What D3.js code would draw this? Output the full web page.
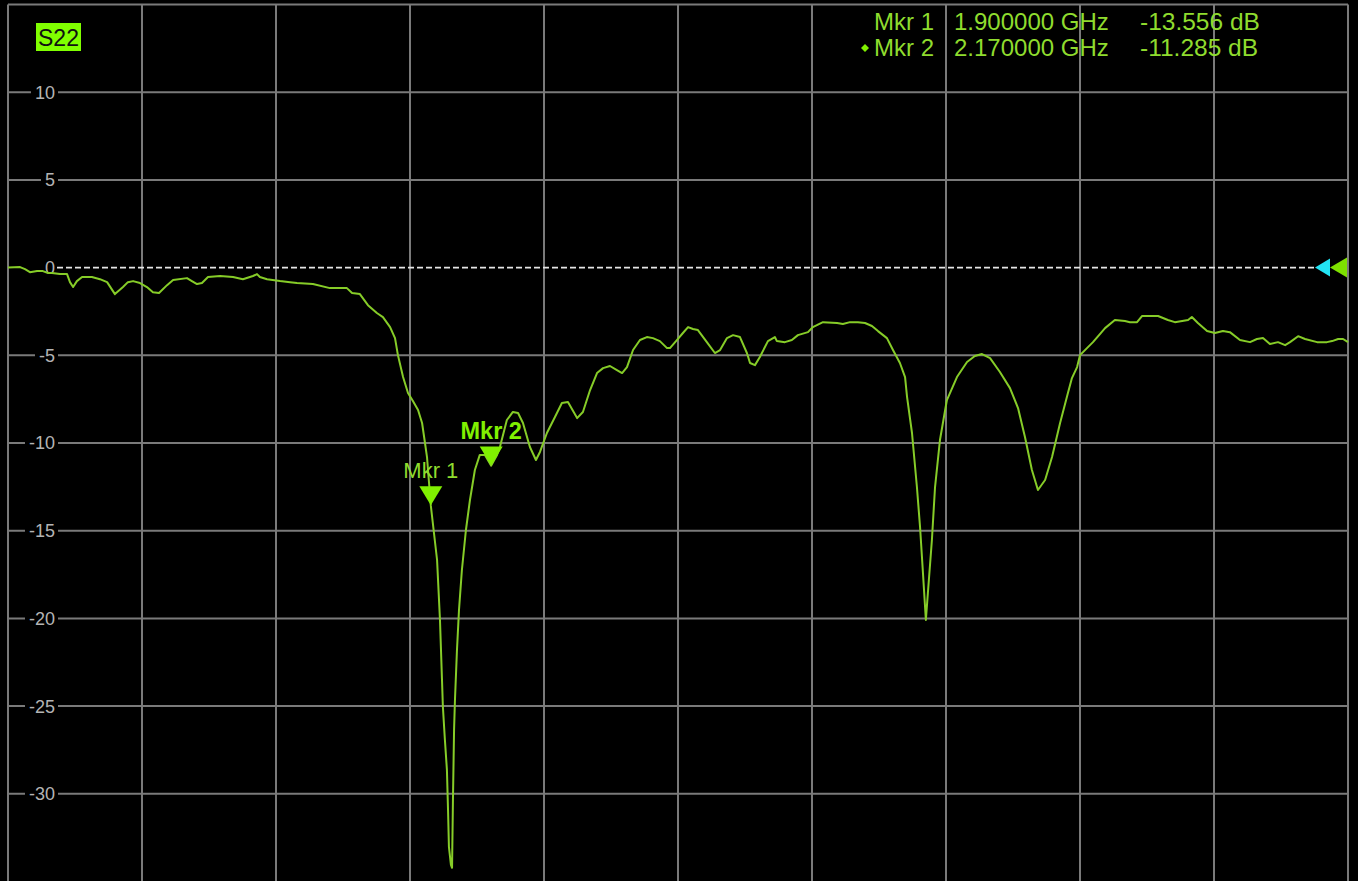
<!DOCTYPE html>
<html>
<head>
<meta charset="utf-8">
<script src="https://cdn.jsdelivr.net/npm/d3@7"></script>
<style>
html,body{margin:0;padding:0;background:#000;overflow:hidden;}
text{font-family:"Liberation Sans",Arial,sans-serif;}
</style>
</head>
<body>
<div id="content"></div>
<script>
// S22 trace, frequency in GHz, level in dB
var traceFreq = [0.010,0.064,0.086,0.108,0.140,0.166,0.189,0.207,0.242,0.274,0.287,0.301,0.318,0.341,0.385,0.421,0.453,0.488,0.524,0.546,
  0.569,0.600,0.631,0.658,0.685,0.721,0.748,0.810,0.832,0.855,0.877,0.904,0.958,1.016,1.060,1.105,1.123,1.136,1.168,1.226,
  1.271,1.302,1.373,1.449,1.525,1.548,1.583,1.619,1.659,1.686,1.718,1.740,1.753,1.776,1.798,1.820,1.843,1.861,1.874,1.883,
  1.900,1.928,1.941,1.950,1.954,1.963,1.972,1.977,1.981,1.990,1.995,1.999,2.004,2.008,2.017,2.026,2.039,2.057,2.075,2.097,
  2.119,2.142,2.170,2.196,2.209,2.240,2.267,2.290,2.312,2.343,2.370,2.388,2.419,2.455,2.486,2.513,2.554,2.580,2.612,2.643,
  2.670,2.701,2.732,2.755,2.777,2.804,2.835,2.866,2.893,2.924,2.956,2.969,3.000,3.027,3.050,3.072,3.094,3.134,3.170,3.193,
  3.224,3.251,3.282,3.313,3.327,3.349,3.371,3.407,3.438,3.447,3.483,3.514,3.541,3.586,3.608,3.653,3.716,3.742,3.774,3.809,
  3.841,3.872,3.899,3.939,3.966,3.997,4.020,4.029,4.051,4.073,4.087,4.100,4.113,4.122,4.140,4.154,4.176,4.207,4.252,4.297,
  4.332,4.364,4.400,4.444,4.489,4.525,4.556,4.587,4.614,4.646,4.677,4.713,4.748,4.766,4.789,4.802,4.860,4.891,4.914,4.958,
  5.003,5.025,5.057,5.079,5.151,5.195,5.226,5.285,5.302,5.329,5.370,5.405,5.441,5.472,5.517,5.562,5.593,5.620,5.651,5.687,
  5.719,5.741,5.777,5.808,5.862,5.906,5.929,5.956,5.978,6.000];
var traceDb = [0.01,0.03,-0.09,-0.26,-0.20,-0.20,-0.31,-0.31,-0.37,-0.37,-0.83,-1.11,-0.77,-0.54,-0.54,-0.66,-0.83,-1.51,-1.11,-0.83,
  -0.77,-0.88,-1.11,-1.40,-1.45,-1.00,-0.71,-0.60,-0.77,-0.94,-0.88,-0.54,-0.48,-0.54,-0.66,-0.48,-0.37,-0.54,-0.66,-0.77,
  -0.83,-0.88,-0.94,-1.17,-1.17,-1.45,-1.51,-2.14,-2.59,-2.82,-3.39,-4.02,-4.99,-6.24,-7.15,-7.61,-8.12,-8.86,-10.00,-10.80,
  -13.56,-16.67,-20.09,-23.50,-25.04,-26.92,-28.63,-30.91,-33.02,-34.05,-34.22,-30.34,-26.35,-24.64,-21.79,-19.52,-17.24,-14.96,-13.25,-11.54,
  -10.68,-10.68,-11.29,-10.68,-10.23,-8.69,-8.23,-8.29,-8.86,-10.23,-10.97,-10.51,-9.43,-8.52,-7.72,-7.66,-8.58,-8.23,-6.98,-6.01,
  -5.73,-5.61,-5.84,-6.01,-5.67,-4.70,-4.13,-3.96,-4.02,-4.19,-4.59,-4.59,-4.13,-3.73,-3.39,-3.50,-3.56,-4.25,-4.87,-4.70,
  -4.02,-3.85,-3.96,-4.87,-5.44,-5.56,-5.10,-4.19,-3.96,-4.19,-4.25,-4.13,-3.85,-3.68,-3.39,-3.11,-3.16,-3.22,-3.11,-3.11,
  -3.16,-3.33,-3.62,-4.02,-4.70,-5.44,-6.24,-7.38,-9.43,-12.51,-14.79,-17.41,-20.09,-18.55,-15.53,-12.51,-9.83,-7.55,-6.24,-5.38,
  -5.04,-4.93,-5.16,-5.95,-6.87,-8.01,-9.66,-11.54,-12.68,-12.11,-10.80,-8.86,-7.15,-6.30,-5.67,-4.99,-4.25,-3.79,-3.45,-2.99,
  -3.05,-3.11,-3.11,-2.76,-2.76,-2.99,-3.11,-2.99,-2.82,-3.16,-3.62,-3.73,-3.62,-3.68,-4.13,-4.25,-4.07,-4.02,-4.36,-4.25,
  -4.42,-4.25,-3.91,-4.07,-4.25,-4.25,-4.19,-4.07,-4.07,-4.25];

var markerNames = ["Mkr 1","Mkr 2"];
var markerFreq = [1.900, 2.170];
var markerDb = [-13.556, -11.285];
var activeMarker = 1;

var yTicks = [10,5,0,-5,-10,-15,-20,-25,-30];
var yTickLabels = ["10","5","0","-5","-10","-15","-20","-25","-30"];
var traceName = "S22";
var refLevel = 0;

var freqStart = 0.01, freqStop = 6.0, divisions = 10;
var dbTop = 15, dbBottom = -35;

// layout
var width = 1358, height = 881;
var plot = {'left':8,'top':4.5,'right':1348,'bottom':881.5};
var gridColor = "#7a7a7a";
var traceColor = "#86cc28";
var textColor = "#8fdc2e";
var markerColor = "#80f000";

var x = d3.scaleLinear().domain([freqStart, freqStop]).range([plot.left, plot.right]);
var y = d3.scaleLinear().domain([dbTop, dbBottom]).range([plot.top, plot.bottom]);

var svg = d3.select("#content").append("svg")
  .attr("width", width)
  .attr("height", height)
  .style("display","block");

svg.append("rect").attr("width", width).attr("height", height).attr("fill", "#000");

// grid
var xGrid = d3.range(divisions + 1).map(function(i){ return freqStart + i*(freqStop-freqStart)/divisions; });
var yGrid = d3.range(dbTop, dbBottom, -5);

svg.append("g").selectAll("line.v")
  .data(xGrid).enter().append("line")
  .attr("x1", function(d){ return x(d); })
  .attr("x2", function(d){ return x(d); })
  .attr("y1", plot.top).attr("y2", height)
  .attr("stroke", gridColor).attr("stroke-width", 2);

svg.append("g").selectAll("line.h")
  .data(yGrid.filter(function(d){ return d != refLevel; })).enter().append("line")
  .attr("x1", plot.left).attr("x2", plot.right)
  .attr("y1", function(d){ return y(d); })
  .attr("y2", function(d){ return y(d); })
  .attr("stroke", gridColor).attr("stroke-width", 2);

// y labels with black boxes cutting the grid line
var labels = svg.append("g").selectAll("g")
  .data(yTicks).enter().append("g")
  .attr("transform", function(d){ return "translate(55," + y(d) + ")"; });
labels.append("rect");
labels.append("text")
  .text(function(d,i){ return yTickLabels[i]; })
  .attr("text-anchor","end")
  .attr("dy","0.36em")
  .attr("font-size", 18)
  .attr("fill", "#b4b4b4");
labels.each(function(){
  var g = d3.select(this);
  var b = g.select("text").node().getBBox();
  g.select("rect").attr("x", b.x-4).attr("y", -5).attr("width", b.width+7).attr("height", 10).attr("fill","#000");
});

// reference line
svg.append("line")
  .attr("x1", 57).attr("x2", 1316)
  .attr("y1", y(refLevel)).attr("y2", y(refLevel))
  .attr("stroke", "#e6e6e6").attr("stroke-width", 1.6)
  .attr("stroke-dasharray", "6,3");

// trace
var line = d3.line()
  .x(function(d){ return x(d[0]); })
  .y(function(d){ return y(d[1]); });

svg.append("path")
  .datum(d3.zip(traceFreq, traceDb))
  .attr("d", line)
  .attr("fill", "none")
  .attr("stroke", traceColor)
  .attr("stroke-width", 2)
  .attr("stroke-linejoin", "round");

// reference arrows on the right
svg.append("path")
  .attr("d", "M0,0 L15,-9 L15,9 Z")
  .attr("transform", "translate(1315," + y(refLevel) + ")")
  .attr("fill", "#22e4f4");
svg.append("path")
  .attr("d", "M0,0 L17,-10 L17,10 Z")
  .attr("transform", "translate(1330," + y(refLevel) + ")")
  .attr("fill", "#7ee000");

// markers on the trace
var mk = svg.append("g").selectAll("g")
  .data(markerNames).enter().append("g")
  .attr("transform", function(d,i){ return "translate(" + x(markerFreq[i]) + "," + y(markerDb[i]) + ")"; });
mk.append("path")
  .attr("d", "M0,0 L-11.5,-19 L11.5,-19 Z")
  .attr("fill", markerColor);
mk.append("text")
  .text(function(d){ return d; })
  .attr("text-anchor", "middle")
  .attr("y", -27)
  .attr("font-size", function(d,i){ return i == activeMarker ? 23.5 : 22; })
  .attr("font-weight", function(d,i){ return i == activeMarker ? "bold" : "normal"; })
  .attr("fill", function(d,i){ return i == activeMarker ? markerColor : textColor; });

// trace name box
svg.append("rect")
  .attr("x", 36).attr("y", 23).attr("width", 45).attr("height", 28)
  .attr("fill", "#80ff00");
svg.append("text")
  .text(traceName)
  .attr("x", 58.5).attr("y", 46)
  .attr("text-anchor", "middle")
  .attr("font-size", 23)
  .attr("fill", "#111");

// marker table
var rows = svg.append("g").selectAll("g")
  .data(markerNames).enter().append("g")
  .attr("transform", function(d,i){ return "translate(0," + (30 + i*26) + ")"; });
rows.append("text")
  .text(function(d){ return d; })
  .attr("x", 934).attr("text-anchor", "end")
  .attr("font-size", 24).attr("fill", textColor);
rows.append("text")
  .text(function(d,i){ return markerFreq[i].toFixed(6) + " GHz"; })
  .attr("x", 954)
  .attr("font-size", 24).attr("fill", textColor);
rows.append("text")
  .text(function(d,i){ return markerDb[i].toFixed(3) + " dB"; })
  .attr("x", 1140)
  .attr("font-size", 24.5).attr("fill", textColor);
rows.filter(function(d,i){ return i == activeMarker; })
  .append("path")
  .attr("d", "M0,-4 L4,0 L0,4 L-4,0 Z")
  .attr("transform", "translate(865,-8)")
  .attr("fill", markerColor);
</script>
</body>
</html>
